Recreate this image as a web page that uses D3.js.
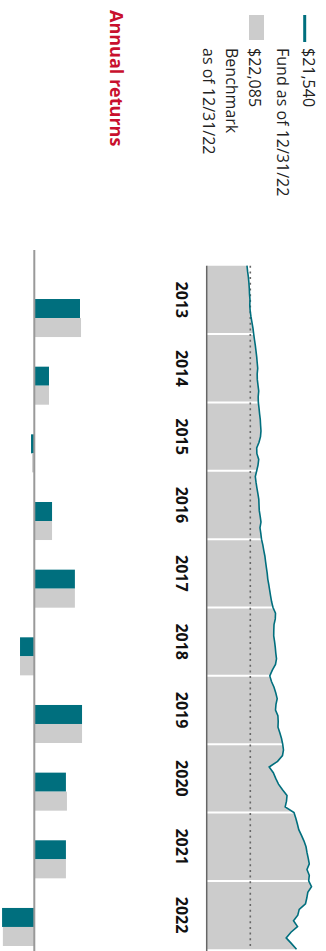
<!DOCTYPE html>
<html><head><meta charset="utf-8">
<script src="https://cdn.jsdelivr.net/npm/d3@7"></script>
<style>
html,body{margin:0;padding:0;background:#fff;}
svg{display:block;font-family:"Open Sans",Lato,sans-serif;}
</style></head>
<body>
<div id="chart"></div>
<script>
// ---- data ----
const years = ["2013","2014","2015","2016","2017","2018","2019","2020","2021","2022"];
const fundReturns  = [22.4, 7.2, -1.6, 8.7, 19.9, -7.0, 23.4, 15.5, 15.5, -15.8];
const benchReturns = [22.9, 7.2, -1.1, 8.7, 19.9, -7.0, 23.4, 16.0, 15.5, -15.4];
// month-end growth of hypothetical investment, Dec 2012 .. Dec 2022
const fundGrowth = [
  9240, 9380, 9560, 9680, 9770, 9820, 9930, 9880, 9980, 10160, 10390, 10620, 10780,
  10960, 11150, 11310, 11470, 11580, 11700, 11580, 11610, 11770, 11930, 11810, 11840,
  12000, 12130, 12290, 12360, 12450, 12340, 12000, 11470, 11510, 11930, 11770, 11470,
  11150, 11310, 11510, 11740, 11950, 12000, 12060, 12270, 12450, 12220, 12410, 12570,
  12870, 13100, 13350, 13510, 13690, 13880, 14010, 14240, 14450, 14660, 14890, 15210,
  15780, 15730, 15440, 15390, 15370, 15570, 15730, 15850, 16010, 15780, 15050, 14470,
  14860, 15440, 15850, 16170, 15890, 15780, 16330, 16400, 16350, 16770, 17160, 17430,
  17610, 17380, 16260, 14330, 15280, 15830, 16470, 17390, 18420, 18300, 18000, 20020,
  20440, 20800, 21120, 21740, 22320, 22780, 23000, 23280, 23530, 23000, 23530, 23390,
  24040, 23190, 22960, 22660, 21220, 20890, 19910, 20830, 19330, 18230, 19450, 20600
];
const initialInvestment = 10000;
const legendFundValue = "$21,540";
const legendFundLabel = "Fund as of 12/31/22";
const legendBenchValue = "$22,085";
const legendBenchLabel1 = "Benchmark";
const legendBenchLabel2 = "as of 12/31/22";
const barsTitle = "Annual returns";

// ---- styles ----
const TEAL = "#006f7e", GRAY = "#cccccc", RED = "#c8102e";
const W = 326, H = 951;

const svg = d3.select("#chart").append("svg").attr("width", W).attr("height", H);
// chart is drawn in a 951 x 326 frame, then turned a quarter turn clockwise
const g = svg.append("g").attr("transform", `translate(${W},0) rotate(90)`);

// ---- legend ----
g.append("line").attr("x1", 15).attr("x2", 42).attr("y1", 21.3).attr("y2", 21.3)
  .attr("stroke", TEAL).attr("stroke-width", 3);
g.append("rect").attr("x", 15).attr("y", 62).attr("width", 25).attr("height", 15).attr("fill", GRAY);
const legTexts = [
  [legendFundValue, 23], [legendFundLabel, 49],
  [legendBenchValue, 77], [legendBenchLabel1, 100], [legendBenchLabel2, 123]
];
g.selectAll("text.leg").data(legTexts).enter().append("text").attr("class","leg")
  .attr("x", 48).attr("y", d => d[1]).attr("font-size", 16).attr("fill", "#222")
  .text(d => d[0]);

g.append("text").attr("x", 10).attr("y", 216).attr("font-size", 18).attr("font-weight", 700)
  .attr("fill", RED).text(barsTitle);

// ---- growth area ----
const x = d3.scaleLinear().domain([0, fundGrowth.length - 1]).range([265.7, 949.3]);
const y = d3.scaleLinear().domain([0, 25000]).range([119.3, 119.3 - 109]);

g.append("path").datum(fundGrowth)
  .attr("d", d3.area().x((d,i) => x(i)).y0(y(0)).y1(d => y(d)))
  .attr("fill", GRAY);

// year grid lines (white)
const yearTicks = d3.range(1, years.length).map(k => k * 12);
g.selectAll("line.grid").data(yearTicks).enter().append("line").attr("class","grid")
  .attr("x1", d => x(d)).attr("x2", d => x(d)).attr("y1", y(0)).attr("y2", 0)
  .attr("stroke", "#fff").attr("stroke-width", 2);

// initial investment dotted reference
g.append("line").attr("x1", x(0)).attr("x2", x(fundGrowth.length - 1))
  .attr("y1", y(initialInvestment)).attr("y2", y(initialInvestment))
  .attr("stroke", "#666").attr("stroke-width", 1.6).attr("stroke-dasharray", "2,3.7");

// axis baseline
g.append("line").attr("x1", x(0)).attr("x2", 951).attr("y1", y(0)).attr("y2", y(0))
  .attr("stroke", "#666").attr("stroke-width", 1.5);

g.append("path").datum(fundGrowth)
  .attr("d", d3.line().x((d,i) => x(i)).y(d => y(d)))
  .attr("fill", "none").attr("stroke", TEAL).attr("stroke-width", 1.6);

// year labels
g.selectAll("text.year").data(years).enter().append("text").attr("class","year")
  .attr("x", (d,i) => x(i * 12 + 6)).attr("y", 150).attr("text-anchor", "middle")
  .attr("font-size", 16).attr("font-weight", 700).attr("fill", "#111").text(d => d);

// ---- annual return bars ----
const xb = d3.scaleBand().domain(years).range([284.2, 960.8]).paddingInner(0.438).paddingOuter(0.219);
const xi = d3.scaleBand().domain(["fund","bench"]).range([0, xb.bandwidth()]);
const yb = d3.scaleLinear().domain([-20, 30]).range([291.7 + 40.8, 291.7 - 61.2]);

const rows = years.map((yr, i) => ({yr, fund: fundReturns[i], bench: benchReturns[i]}));
const grp = g.selectAll("g.bar").data(rows).enter().append("g").attr("class","bar")
  .attr("transform", d => `translate(${xb(d.yr)},0)`);
grp.selectAll("rect").data(d => [["fund", d.fund], ["bench", d.bench]]).enter().append("rect")
  .attr("x", d => xi(d[0])).attr("width", xi.bandwidth())
  .attr("y", d => Math.min(yb(d[1]), yb(0))).attr("height", d => Math.abs(yb(d[1]) - yb(0)))
  .attr("fill", d => d[0] === "fund" ? TEAL : GRAY);

g.append("line").attr("x1", 250).attr("x2", 951).attr("y1", yb(0)).attr("y2", yb(0))
  .attr("stroke", "#999").attr("stroke-width", 2);
</script>
</body></html>
